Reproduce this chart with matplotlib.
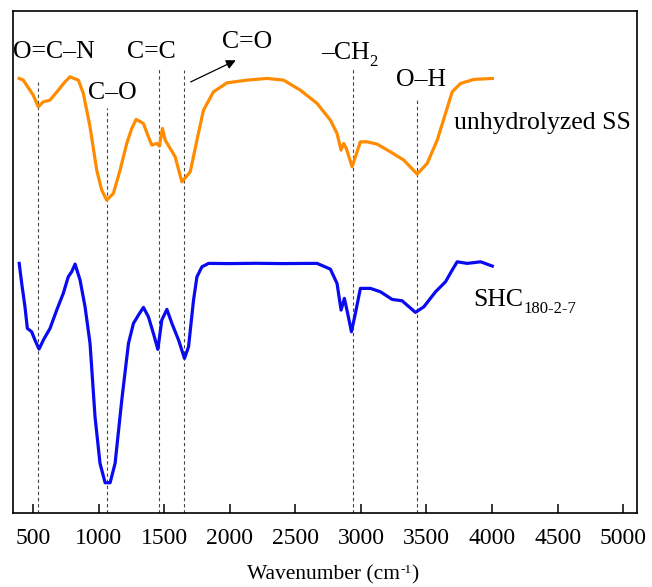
import matplotlib
matplotlib.use("Agg")
import matplotlib.pyplot as plt

plt.rcParams['font.family'] = ['Liberation Serif', 'DejaVu Serif']

# unhydrolyzed SS spectrum (wavenumber, arbitrary transmittance units)
ss_wn = [395, 426, 502, 540, 579, 630, 693, 744, 782, 846, 884, 935, 986, 1024,
         1062, 1113, 1164, 1215, 1253, 1286, 1342, 1380, 1406, 1444, 1464, 1487,
         1508, 1546, 1584, 1635, 1699, 1750, 1800, 1876, 1979, 2131, 2284, 2411,
         2538, 2666, 2767, 2818, 2849, 2869, 2889, 2933, 2958, 2996, 3047, 3123,
         3225, 3327, 3429, 3505, 3582, 3645, 3696, 3760, 3861, 4002]
ss_t = [434.7, 433, 418, 406.3, 411.3, 413, 423, 431.3, 436.3, 433, 419.7, 386.3,
        343, 323, 313, 319.7, 343, 369.7, 384.7, 393.7, 389.7, 376.3, 368, 369.7,
        367, 384.7, 373, 364.7, 356.3, 331.3, 341.3, 373, 403, 421.3, 430.3, 433,
        434.7, 433, 423, 409.7, 393, 379.7, 363, 369.7, 364.7, 346.3, 356.3, 371.3,
        371.3, 369, 361.3, 353, 339, 349.7, 373, 399.7, 421.3, 429.7, 433.7, 434.7]

# SHC180-2-7 spectrum
shc_wn = [395, 414, 439, 457, 490, 515, 546, 579, 630, 681, 731, 769, 795, 821,
          859, 897, 935, 973, 1011, 1050, 1088, 1126, 1177, 1228, 1266, 1304, 1342,
          1380, 1418, 1452, 1482, 1521, 1559, 1610, 1655, 1686, 1724, 1750, 1788,
          1839, 2000, 2200, 2400, 2600, 2666, 2767, 2818, 2849, 2874, 2899, 2928,
          2958, 2996, 3073, 3149, 3238, 3314, 3416, 3480, 3569, 3645, 3696, 3734,
          3811, 3913, 4002]
shc_t = [249.7, 229.7, 206.3, 184.7, 181.3, 173, 164, 173, 184.7, 203, 219.7, 236.3,
         241.3, 249, 233, 206.3, 169.7, 96.3, 49.7, 30.3, 30.3, 49.7, 113, 169.7,
         189.7, 198, 205.7, 196.3, 179.7, 163.7, 193, 203.7, 189.7, 173, 154.7, 166.3,
         213, 236.3, 246.3, 249.7, 249.5, 249.8, 249.5, 249.7, 249.7, 244, 229.7, 203,
         214.7, 199.7, 181.3, 199.7, 224.7, 224.7, 221.3, 213.7, 212.3, 200.7, 206.3,
         221.3, 231.3, 243, 251.3, 249.7, 251.3, 247]

# marked bands
band_wn = [540, 1067, 1457, 1655, 2938, 3424]
band_top = [431, 405, 446, 443, 445, 415]

xticks = [500, 1000, 1500, 2000, 2500, 3000, 3500, 4000, 4500, 5000]

fig = plt.figure(figsize=(6.52, 5.87), dpi=100)
ax = fig.add_axes([0.02, 0.126, 0.957, 0.855])

for wn, top in zip(band_wn, band_top):
    ax.plot([wn, wn], [0, top], ls=(0, (3, 2.5)), color='#444444', lw=0.8)

ax.plot(ss_wn, ss_t, color='#FF8C00', lw=2.3)
ax.plot(shc_wn, shc_t, color='#0A0AF0', lw=2.3)

fs = 18.5
ax.text(660, 461, 'O=C\u2013N', fontsize=fs, ha='center', va='center')
ax.text(1107, 420, 'C\u2013O', fontsize=fs, ha='center', va='center')
ax.text(1406, 461, 'C=C', fontsize=fs, ha='center', va='center')
ax.text(2131, 471, 'C=O', fontsize=fs, ha='center', va='center')
ax.annotate('', xy=(2065, 454), xytext=(1683, 430),
            arrowprops=dict(arrowstyle='-|>', color='black', lw=0.9,
                            mutation_scale=14))
ch = ax.text(2880, 460, '\u2013CH', fontsize=fs, ha='center', va='center')
ax.annotate('2', xy=(1, 0.08), xycoords=ch, fontsize=12, ha='left', va='center')
ax.text(3460, 433, 'O\u2013H', fontsize=fs, ha='center', va='center')
ax.text(3706, 390, 'unhydrolyzed SS', fontsize=fs, ha='left', va='center')
shc = ax.text(3859, 213, 'SHC', fontsize=fs, ha='left', va='center')
ax.annotate('180-2-7', xy=(1, 0.08), xycoords=shc, fontsize=12, ha='left', va='center')

ax.set_xlim(348, 5105)
ax.set_ylim(0, 502)
ax.set_xticks(xticks)
ax.set_yticks([])
ax.tick_params(axis='x', direction='in', length=6.5, width=1.1, labelsize=17, pad=11)
for s in ax.spines.values():
    s.set_linewidth(1.2)

# x label with small superscript
xl = fig.text(0.379, 0.021, 'Wavenumber (cm', fontsize=15.5, ha='left', va='center')
sup = ax.annotate('-1', xy=(1, 0.72), xycoords=xl, fontsize=9.5,
                  ha='left', va='center', annotation_clip=False)
ax.annotate(')', xy=(1, 0.5), xycoords=(sup, xl), fontsize=15.5,
            ha='left', va='center', annotation_clip=False)

fig.savefig('out.png', dpi=100)
